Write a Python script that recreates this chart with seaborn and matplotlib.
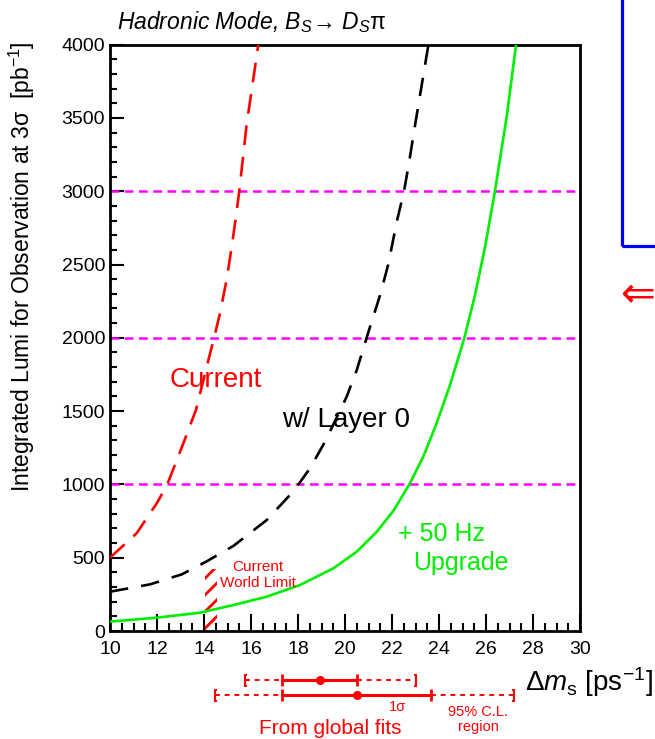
import matplotlib
matplotlib.use("Agg")
import matplotlib.pyplot as plt
import seaborn as sns
from matplotlib.patches import Rectangle
from matplotlib.ticker import MultipleLocator


# lumi needed for a 3 sigma observation vs Delta m_s
current_dms = [10.0, 11.13, 11.99, 12.44, 13.12, 13.66, 14.26, 14.43, 14.68, 14.96,
               15.18, 15.36, 15.50, 15.82, 16.03, 16.31]
current_lumi = [500, 666, 871, 1000, 1280, 1509, 1894, 2000, 2167, 2394,
                2621, 2826, 3000, 3463, 3690, 4000]

layer0_dms = [10.0, 11.7, 13.05, 14.09, 15.25, 16.67, 17.66, 18.02, 18.51, 19.15,
              20.07, 20.50, 20.92, 21.49, 21.84, 22.20, 22.51, 22.70, 22.98, 23.26, 23.55]
layer0_lumi = [268, 318, 386, 473, 580, 757, 928, 1000, 1110, 1291,
               1598, 1780, 2000, 2290, 2500, 2790, 3000, 3170, 3450, 3720, 4000]

upgrade_dms = [10.0, 12.0, 13.83, 15.25, 16.67, 18.09, 19.51, 20.50, 21.35, 22.06,
               22.74, 23.33, 23.90, 24.47, 25.08, 25.53, 25.96, 26.38, 26.88, 27.28]
upgrade_lumi = [64, 91, 125, 177, 234, 314, 428, 541, 677, 820,
                1000, 1189, 1417, 1678, 2000, 2290, 2620, 3000, 3508, 4000]

guide_lumi = [1000, 2000, 3000]

world_limit_dms = [14.04, 14.54]
world_limit_lumi = 420

# global fits: central value, 1 sigma and 95% C.L. ranges (two fits)
fit_central = [18.94, 20.50]
fit_1sig_lo = [17.33, 17.33]
fit_1sig_hi = [20.50, 23.66]
fit_95_lo = [15.74, 14.47]
fit_95_hi = [22.98, 27.15]

RED = "#ff0000"
GREEN = "#00ee00"
MAGENTA = "#ff00ff"


def main() -> None:
    sns.set_theme(style="ticks")
    plt.rcParams["font.family"] = ["Liberation Sans", "DejaVu Sans"]
    plt.rcParams["mathtext.fontset"] = "custom"
    plt.rcParams["mathtext.rm"] = "Liberation Sans"
    plt.rcParams["mathtext.it"] = "Liberation Sans:italic"
    plt.rcParams["mathtext.bf"] = "Liberation Sans:bold"
    plt.rcParams["hatch.color"] = RED
    plt.rcParams["hatch.linewidth"] = 2.0

    fig = plt.figure(figsize=(6.55, 7.39), dpi=100)
    ax = fig.add_axes([0.16794, 0.14614, 0.71756, 0.7935])

    for v in guide_lumi:
        ax.axhline(v, color=MAGENTA, lw=1.8, linestyle=(0, (3.5, 2.2)), zorder=1)

    sns.lineplot(x=current_dms, y=current_lumi, ax=ax, color=RED, lw=1.9,
                 linestyle=(0, (7.5, 4.5)), sort=False, zorder=3)
    sns.lineplot(x=layer0_dms, y=layer0_lumi, ax=ax, color="black", lw=1.9,
                 linestyle=(0, (7, 5)), sort=False, zorder=3)
    sns.lineplot(x=upgrade_dms, y=upgrade_lumi, ax=ax, color=GREEN, lw=1.9,
                 sort=False, zorder=3)

    ax.fill_between(world_limit_dms, 0, world_limit_lumi, facecolor="none",
                    edgecolor=RED, hatch="//", linewidth=0, zorder=2)

    ax.set_xlim(10, 30)
    ax.set_ylim(0, 4000)
    ax.xaxis.set_major_locator(MultipleLocator(2))
    ax.xaxis.set_minor_locator(MultipleLocator(0.5))
    ax.yaxis.set_major_locator(MultipleLocator(500))
    ax.yaxis.set_minor_locator(MultipleLocator(100))
    ax.tick_params(axis="x", which="major", direction="in", length=12, width=1.5,
                   labelsize=14, pad=7, color="black")
    ax.tick_params(axis="x", which="minor", direction="in", length=6, width=1.5,
                   color="black")
    ax.tick_params(axis="y", which="major", direction="in", length=10, width=1.5,
                   labelsize=14, pad=3.5, color="black")
    ax.tick_params(axis="y", which="minor", direction="in", length=5, width=1.5,
                   color="black")
    for side in ["left", "bottom", "right", "top"]:
        ax.spines[side].set_linewidth(2)
        ax.spines[side].set_color("black")
    ax.tick_params(labelcolor="black")

    ax.set_ylabel("Integrated Lumi for Observation at 3σ  [pb$^{-1}$]",
                  fontsize=16.5, color="black")
    ax.yaxis.set_label_coords(-0.155, 0.6216)
    ax.set_xlabel("Δ$m_{\\mathrm{s}}$ [ps$^{-1}$]", fontsize=20, ha="right",
                  color="black")
    ax.xaxis.set_label_coords(1.155, -0.058)

    ax.text(14.5, 1666, "Current", color=RED, fontsize=20, ha="center", va="baseline")
    ax.text(20.04, 1389, "w/ Layer 0", color="black", fontsize=20, ha="center",
            va="baseline")
    ax.text(22.27, 616, "+ 50 Hz", color=GREEN, fontsize=18, ha="left", va="baseline")
    ax.text(22.91, 416, "Upgrade", color=GREEN, fontsize=18, ha="left", va="baseline")
    ax.text(16.31, 411, "Current", color=RED, fontsize=11, ha="center", va="baseline")
    ax.text(16.31, 298, "World Limit", color=RED, fontsize=11, ha="center",
            va="baseline")

    fig.text(117 / 655, 1 - 29.5 / 739,
             r"Hadronic Mode, $B_S\!\rightarrow\, D_S\mathrm{\pi}$",
             fontsize=16.5, style="italic", ha="left", va="baseline", color="black")

    # global fit ranges drawn under the x axis on the same scale
    ax_fit = fig.add_axes([0.16794, 0.0, 0.71756, 0.1])
    ax_fit.set_xlim(10, 30)
    ax_fit.set_ylim(0, 1)
    ax_fit.axis("off")
    rows_y = [0.80, 0.595]
    for i, yy in enumerate(rows_y):
        ax_fit.plot([fit_95_lo[i], fit_1sig_lo[i]], [yy, yy], color=RED, lw=1.4,
                    linestyle=(0, (2.5, 2.5)))
        ax_fit.plot([fit_1sig_hi[i], fit_95_hi[i]], [yy, yy], color=RED, lw=1.4,
                    linestyle=(0, (2.5, 2.5)))
        ax_fit.plot([fit_1sig_lo[i], fit_1sig_hi[i]], [yy, yy], color=RED, lw=2.2)
        ax_fit.plot([fit_1sig_lo[i], fit_1sig_hi[i]], [yy, yy], color=RED, ls="none",
                    marker="|", ms=9, mew=2)
        ax_fit.plot([fit_central[i]], [yy], color=RED, marker="o", ms=5.5)
        ax_fit.plot([fit_95_lo[i]], [yy], color=RED, marker="$[$", ms=9, mew=0.8)
        ax_fit.plot([fit_95_hi[i]], [yy], color=RED, marker="$]$", ms=9, mew=0.8)

    ax_fit.text(22.23, 0.43, "1σ", color=RED, fontsize=10.5, ha="center", va="center")
    ax_fit.text(25.66, 0.36, "95% C.L.", color=RED, fontsize=10.5, ha="center",
                va="center")
    ax_fit.text(25.66, 0.16, "region", color=RED, fontsize=10.5, ha="center",
                va="center")
    ax_fit.text(19.36, 0.068, "From global fits", color=RED, fontsize=15,
                ha="center", va="baseline")

    # slide decorations at the right edge
    fig.add_artist(Rectangle((622 / 655, 1 - 246.5 / 739), 1, 1,
                             transform=fig.transFigure, fill=False,
                             edgecolor="#0000ff", lw=2.3))
    fig.text(621 / 655, 1 - 307 / 739, "⇐", color=RED, fontsize=30,
             family="DejaVu Sans", ha="left", va="baseline")

    fig.savefig("out.png", dpi=100)
    plt.close(fig)


if __name__ == "__main__":
    main()
